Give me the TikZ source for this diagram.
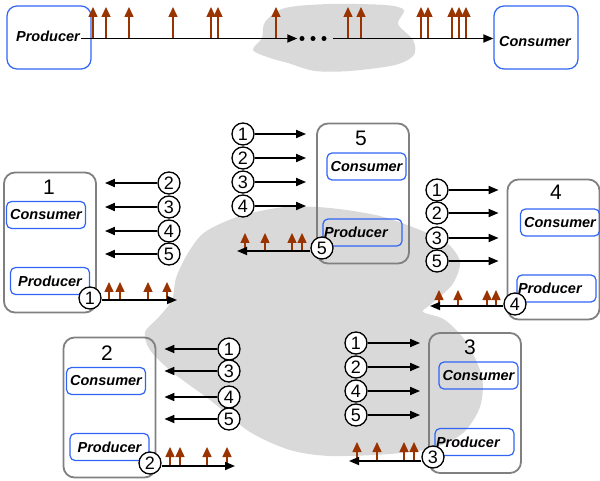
\documentclass[tikz,border=0pt]{standalone}
\usepackage{fontspec}
\setmainfont{Liberation Sans}
\setsansfont{Liberation Sans}
\usetikzlibrary{arrows.meta,positioning}
\definecolor{netgray}{HTML}{D9D9D9}
\definecolor{pktbrown}{HTML}{993300}
\definecolor{appblue}{HTML}{2F64F5}

\begin{document}
\begin{tikzpicture}[
  x=1pt, y=-1pt,
  font=\sffamily,
  app/.style={draw=appblue, line width=1.2pt, rounded corners=5pt, minimum width=79pt, minimum height=27pt, inner sep=1pt, font=\sffamily\fontsize{14.5}{16}\selectfont\bfseries\itshape},
  appl/.style={app, text width=77pt, align=left},
  apptxt/.style={inner sep=1pt, font=\sffamily\fontsize{14.5}{16}\selectfont\bfseries\itshape},
  host/.style={draw=black!50, line width=1.8pt, rounded corners=11pt, minimum width=92pt, minimum height=140pt},
  hnum/.style={font=\sffamily\fontsize{21}{22}\selectfont, inner sep=0pt},
  tag/.style={circle, draw, line width=1.3pt, fill=white, inner sep=0pt, minimum size=22pt, font=\sffamily\fontsize{18}{18}\selectfont},
  dot/.style={circle, fill, inner sep=0pt, minimum size=5pt},
  arr/.style={-{Triangle[length=10pt,width=8pt]}, line width=1.7pt},
  pkt/.style={-{Triangle[length=10pt,width=9pt]}, draw=pktbrown, line width=1.4pt}
]
\useasboundingbox (0,0) rectangle (600,481);

\fill[netgray] plot[smooth cycle] coordinates {(253,50) (262,38) (265,22) (285,8) (330,4) (385,5) (404,10) (398,24) (413,40) (414,55) (395,65) (350,71) (315,71) (288,63) (270,58)};
\fill[netgray] plot[smooth cycle] coordinates {(285,207) (330,208) (380,216) (420,230) (447,243) (460,262) (452,285) (430,305) (423,312) (445,320) (467,343) (482,377) (480,407) (463,433) (433,448) (390,454) (330,456) (290,450) (250,432) (210,400) (172,372) (150,350) (145,332) (158,318) (172,300) (176,278) (188,253) (205,232) (240,216)};

\node[app, minimum width=84pt, minimum height=63pt, rounded corners=10pt] (pr) at (49,37.5) {};
\node[apptxt] (prt) at (48,36) {Producer};
\node[app, minimum width=84pt, minimum height=63pt, rounded corners=10pt] (co) at (536,37.5) {};
\node[apptxt] (cot) at (535,42) {Consumer};
\node[dot] (d1) at (302,38.5) {};
\node[dot] (d2) at (313,38.5) {};
\node[dot] (d3) at (324,38.5) {};
\draw[arr, shorten >=2pt] (prt.east |- d1) -- (d1);
\draw[arr, shorten <=6.5pt] (d3) -- (co.west |- d3);
\foreach \x in {93,106,129,173,211,218,276,348,361,421,428,452,459,466}
  \draw[pkt] (\x,38.5) -- (\x,7);

\node[host] (h1) at (50,242.5) {};
\node[host] (h5) at (363,193.5) {};
\node[host] (h4) at (553.5,249.5) {};
\node[host] (h3) at (475,403) {};
\node[host] (h2) at (109.5,407.5) {};
\node[hnum] (n1) at (49,187) {1};
\node[hnum] (n5) at (361,138) {5};
\node[hnum] (n4) at (556,192) {4};
\node[hnum] (n3) at (470,347) {3};
\node[hnum] (n2) at (107,353) {2};

\node[app] (c1) at (46,215) {Consumer};
\node[app] (p1) at (50,281) {Producer};
\node[app] (c5) at (366.5,166.5) {Consumer};
\node[appl] (p5) at (362.5,232.5) {Producer};
\node[app] (c4) at (560,222.5) {Consumer};
\node[appl] (p4) at (556.5,288.5) {Producer};
\node[app] (c3) at (478.5,375.5) {Consumer};
\node[appl] (p3) at (474.5,442) {Producer};
\node[app] (c2) at (106,381) {Consumer};
\node[app] (p2) at (109.5,447) {Producer};

\foreach \n/\y in {2/183,3/207,4/231,5/254} {
  \node[tag] (a1\n) at (169,\y) {\n};
  \draw[arr, shorten >=8pt] (a1\n) -- (a1\n -| h1.east);
}
\foreach \n/\y in {1/134,2/158,3/182,4/206} {
  \node[tag] (a5\n) at (243,\y) {\n};
  \draw[arr, shorten >=10pt] (a5\n) -- (a5\n -| h5.west);
}
\foreach \n/\y in {1/190,2/213,3/238,5/261} {
  \node[tag] (a4\n) at (437,\y) {\n};
  \draw[arr, shorten >=8pt] (a4\n) -- (a4\n -| h4.west);
}
\foreach \n/\y in {1/343,2/367,4/391,5/415} {
  \node[tag] (a3\n) at (356,\y) {\n};
  \draw[arr, shorten >=8pt] (a3\n) -- (a3\n -| h3.west);
}
\foreach \n/\y in {1/349,3/371,4/397,5/419} {
  \node[tag] (a2\n) at (229,\y) {\n};
  \draw[arr, shorten >=8pt] (a2\n) -- (a2\n -| h2.east);
}

\coordinate (e1) at (177,300);
\coordinate (e5) at (237,251);
\coordinate (e4) at (430,306);
\coordinate (e3) at (349,461);
\coordinate (e2) at (235,466);
\foreach \x in {109,120,148,167} \draw[pkt] (\x,300) -- (\x,282);
\foreach \x in {245,265,292,302} \draw[pkt] (\x,251) -- (\x,233);
\foreach \x in {439,458,487,496} \draw[pkt] (\x,306) -- (\x,290);
\foreach \x in {357,377,404,414} \draw[pkt] (\x,461) -- (\x,442);
\foreach \x in {170,180,207,227} \draw[pkt] (\x,466) -- (\x,447);
\node[tag] (o1) at (90,298) {1};
\node[tag] (o5) at (322,248) {5};
\node[tag] (o4) at (515,304) {4};
\node[tag] (o3) at (433,457) {3};
\node[tag] (o2) at (150,463) {2};
\draw[arr] (o1.east |- e1) -- (e1);
\draw[arr] (o5.west |- e5) -- (e5);
\draw[arr] (o4.west |- e4) -- (e4);
\draw[arr] (o3.west |- e3) -- (e3);
\draw[arr] (o2.east |- e2) -- (e2);
\end{tikzpicture}
\end{document}
